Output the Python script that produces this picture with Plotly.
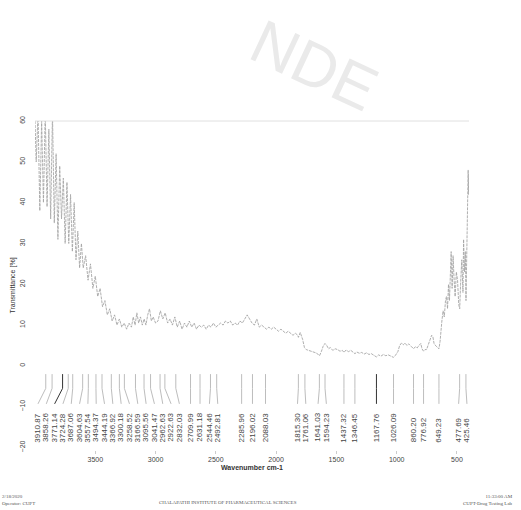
import plotly.graph_objects as go

# ---- spectrum (wavenumber cm-1, transmittance %) ----
wavenumber = [4000, 3990, 3975, 3960, 3945, 3930, 3915, 3900, 3885, 3870, 3855, 3840, 3825, 3810, 3795,
              3780, 3765, 3750, 3735, 3720, 3705, 3690, 3675, 3660, 3645, 3630, 3615, 3600, 3580, 3560,
              3540, 3520, 3500, 3480, 3460, 3440, 3420, 3400, 3380, 3360, 3340, 3320, 3300, 3280, 3260,
              3240, 3220, 3200, 3185, 3170, 3155, 3140, 3125, 3110, 3095, 3080,
              3065, 3050, 3035, 3020, 3000, 2980, 2960, 2940, 2920, 2900, 2880, 2860, 2840, 2820, 2800,
              2780, 2760, 2740, 2720, 2700, 2680, 2660, 2640, 2620, 2600, 2580, 2560, 2540, 2520, 2500,
              2480, 2460, 2440, 2420, 2400, 2380, 2360, 2340, 2320, 2300, 2280, 2260, 2240, 2220, 2200,
              2180, 2160, 2140, 2120, 2100, 2080, 2060, 2040, 2020, 2000, 1980, 1960, 1940, 1920, 1900,
              1880, 1860, 1840, 1820, 1815, 1800, 1780, 1765, 1750, 1730, 1710, 1690, 1670, 1650, 1640,
              1625, 1610, 1595, 1580, 1565, 1550, 1530, 1510, 1490, 1470, 1450, 1437, 1420, 1400, 1380,
              1360, 1346, 1330, 1310, 1290, 1270, 1250, 1230, 1210, 1190, 1168, 1150, 1130, 1110, 1090,
              1070, 1050, 1026, 1010, 990, 975, 960, 945, 930, 915, 900, 880, 860, 845, 830,
              815, 800, 790, 777, 765, 752, 740, 725, 710, 700, 690, 675, 660, 649, 640,
              633, 625, 615, 605, 595, 587, 578, 570, 562, 555, 548, 540, 532, 525, 515,
              505, 495, 485, 477, 470, 460, 450, 445, 437, 430, 425, 418, 412, 407, 403, 400]
transmittance = [60, 50, 62, 38, 60, 40, 62, 39, 58, 36, 62, 35, 52, 31, 49,
                 36, 46, 30, 45, 30, 42, 28, 40, 26, 33, 24, 30, 24, 27, 21,
                 25, 19, 22, 17, 19, 14.5, 16, 12.5, 14, 11, 12.5, 10, 11.5, 9.5, 10.5,
                 9, 10.5, 9.5, 12, 10, 13, 10.5, 12, 10, 11.5, 10,
                 12.5, 14, 11, 12, 10.5, 11, 13.5, 11.5, 13, 10.5, 11.5, 10, 12, 9.5, 11,
                 9, 10.5, 9.5, 11, 9.5, 10.5, 9, 10, 9.5, 10, 9, 10, 9.5, 10.5, 9.5,
                 10, 10.5, 10, 11, 10.5, 11, 10, 10.5, 10, 11, 10.5, 11.5, 12.5, 11.5, 10.5,
                 10, 11.5, 9.5, 10, 9.5, 9, 9.5, 9, 9.5, 9, 8.5, 9, 8.5, 8, 8.5,
                 8, 7.5, 8, 7.5, 7, 8.2, 6.5, 4.5, 4, 3.8, 3.6, 3.5, 3.2, 2.8, 2.5,
                 3.5, 4.8, 5.5, 5, 4.2, 4.5, 3.8, 4.2, 4, 3.6, 3.8, 3.3, 3.9, 3.5, 3.8,
                 3.4, 3, 3.4, 3.1, 3.3, 2.9, 3.2, 2.8, 3, 2.6, 2.2, 2.7, 2.4, 2.8, 2.5,
                 2.7, 2.4, 2.1, 2.6, 3.5, 5, 5.6, 5.2, 5.6, 5, 5.4, 4.8, 4.2, 4.7, 4.4,
                 5, 5.5, 4.2, 3.6, 4, 4, 5, 6.5, 7.5, 7.2, 5.5, 4.9, 4.6, 4.2, 6,
                 9, 11, 13.5, 12, 16, 17, 14, 20, 16, 24, 28, 19, 27, 22, 17,
                 23, 21, 15, 14, 20, 26, 18, 31, 23, 28, 16, 30, 38, 48, 42, 47]

# ---- labelled peaks ----
peaks = [3910.87, 3858.26, 3771.14, 3724.28, 3687.06, 3604.63, 3557.54, 3494.37, 3444.19, 3366.92,
         3300.18, 3258.52, 3166.59, 3095.56, 3041.47, 2962.63, 2922.63, 2832.03, 2709.99, 2631.18,
         2544.46, 2492.81, 2285.96, 2196.02, 2088.03, 1815.30, 1761.06, 1641.03, 1594.23, 1437.32,
         1346.45, 1167.76, 1026.09, 860.20, 776.92, 649.23, 477.69, 425.46]
dark_peaks = [3771.14, 1167.76]

x_ticks = [3500, 3000, 2500, 2000, 1500, 1000, 500]
y_ticks = [-20, -10, 0, 10, 20, 30, 40, 50, 60]

# ---- label layout: spread overlapping labels in clusters ----
GAP = 69.0
clusters = []
for p in peaks:
    clusters.append([p])
    while len(clusters) > 1:
        a, b = clusters[-2], clusters[-1]
        ca = sum(a) / len(a)
        cb = sum(b) / len(b)
        a_last = ca - (len(a) - 1) / 2 * GAP
        b_first = cb + (len(b) - 1) / 2 * GAP
        if a_last - b_first < GAP:
            clusters[-2] = a + b
            clusters.pop()
        else:
            break
label_pos = []
for c in clusters:
    cc = sum(c) / len(c)
    for i in range(len(c)):
        label_pos.append(cc + ((len(c) - 1) / 2 - i) * GAP)

fig = go.Figure()
fig.add_trace(go.Scatter(x=wavenumber, y=transmittance, mode="lines",
                         line=dict(color="#a6a6a6", width=0.9, dash="3px,1px"),
                         hoverinfo="skip", showlegend=False))

shapes = []
annotations = []
for p, lx in zip(peaks, label_pos):
    col = "#333333" if p in dark_peaks else "#bdbdbd"
    shapes.append(dict(type="path", xref="x", yref="y",
                       path=f"M {p},-2 L {p},-5.5 L {lx},-9.3",
                       line=dict(color=col, width=1)))
    annotations.append(dict(x=lx, y=-19.2, xref="x", yref="y", text=f"{p:.2f}",
                            showarrow=False, textangle=-90, xanchor="center", yanchor="bottom",
                            font=dict(size=8, color="#444444", family="Liberation Sans, Arial")))

shapes.append(dict(type="line", xref="paper", yref="paper", x0=0, x1=1, y0=1, y1=1,
                   line=dict(color="#e0e0e0", width=1)))

# watermark
annotations.append(dict(x=0.645, y=1.17, xref="paper", yref="paper", text="NDE",
                        showarrow=False, textangle=25, xanchor="center", yanchor="middle",
                        font=dict(size=62, color="#eaeaea", family="Liberation Sans, Arial")))

foot = dict(size=5, color="#555555", family="Liberation Serif, Times New Roman")
annotations += [
    dict(x=-0.08, y=-0.128, xref="paper", yref="paper", text="2/18/2020<br>Operator: CUPT",
         showarrow=False, xanchor="left", yanchor="top", align="left", font=foot),
    dict(x=0.28, y=-0.145, xref="paper", yref="paper",
         text="CHALAPATHI INSTITUTE OF PHARMACEUTICAL SCIENCES",
         showarrow=False, xanchor="left", yanchor="top", font=foot),
    dict(x=1.105, y=-0.128, xref="paper", yref="paper", text="11:33:00 AM<br>CUPT-Drug Testing Lab",
         showarrow=False, xanchor="right", yanchor="top", align="right", font=foot),
]

fig.update_layout(
    width=521, height=510,
    margin=dict(l=35, r=52, t=121, b=60),
    paper_bgcolor="white", plot_bgcolor="white",
    font=dict(family="Liberation Sans, Arial", color="#333333"),
    shapes=shapes, annotations=annotations,
    xaxis=dict(range=[4000, 400], tickvals=x_ticks, ticks="outside", ticklen=3,
               tickcolor="#cccccc", showgrid=False, zeroline=False, showline=False,
               tickfont=dict(size=7, color="#444444"),
               title=dict(text="<b>Wavenumber cm-1</b>", font=dict(size=7, color="#333333"),
                          standoff=2)),
    yaxis=dict(range=[-20.6, 60], tickvals=y_ticks, ticks="", showgrid=False, zeroline=False,
               showline=False, tickangle=-90, ticklabelstandoff=8,
               tickfont=dict(size=7, color="#444444"),
               title=dict(text="Transmittance [%]", font=dict(size=7, color="#333333"),
                          standoff=2)),
)

fig.write_html("out.html", config={"displayModeBar": False},
               post_script="document.body.style.margin='0';")
